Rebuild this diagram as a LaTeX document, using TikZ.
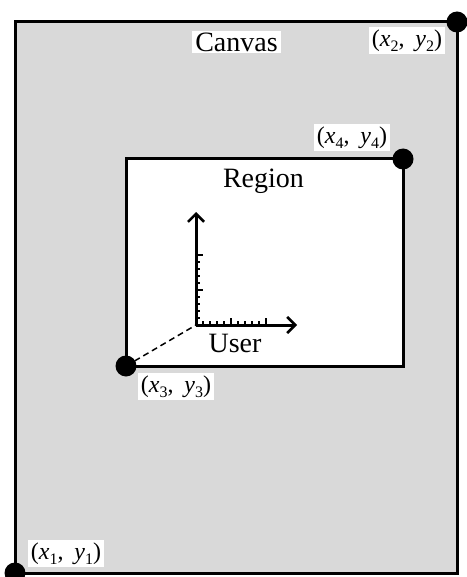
\documentclass[tikz,border=0pt]{standalone}
\usepackage{fontspec}
\setmainfont{Liberation Serif}
\usetikzlibrary{arrows.meta}
\definecolor{canvasgray}{RGB}{217,217,217}
\tikzset{
  frame/.style={draw=black, line width=3pt},
  cornerdot/.style={circle, fill=black, minimum size=21pt, inner sep=0pt},
  biglabel/.style={font=\fontsize{28}{30}\selectfont, inner sep=0pt},
  coordlabel/.style={fill=white, font=\fontsize{24}{26}\selectfont, inner xsep=3pt, inner ysep=2pt, text height=17pt, text depth=6pt},
  axis/.style={line width=3pt, -{Straight Barb[length=8pt,width=16pt,line width=2.6pt]}},
  majortick/.style={line width=2.6pt},
  minortick/.style={line width=2.2pt},
}
\newcommand{\crdsub}[1]{\raisebox{-0.22em}{\fontsize{16}{16}\selectfont #1}}
\newcommand{\crd}[1]{(\textit{x}\crdsub{#1},\hspace{0.45em}\textit{y}\crdsub{#1})}
\begin{document}
\begin{tikzpicture}[x=1pt,y=-1pt]
\useasboundingbox (0,0) rectangle (466,577);
% canvas
\fill[canvasgray] (15,22) rectangle (457,573);
\draw[frame] (15,22) rectangle (457,573);
% region
\fill[white] (126,159) rectangle (403,366);
\draw[frame] (126,159) rectangle (403,366);
% labels
\node[biglabel, fill=white, inner xsep=3pt, inner ysep=2pt] (canvaslbl) at (236.5,42) {Canvas};
\node[biglabel, anchor=base] (regionlbl) at (263.5,187) {Region};
\node[biglabel, anchor=base] (userlbl) at (235,352) {User};
\node[coordlabel] (c2) at (407,41) {\crd{2}};
\node[coordlabel] (c4) at (352,138) {\crd{4}};
\node[coordlabel] (c3) at (176,386.5) {\crd{3}};
\node[coordlabel] (c1) at (66,553.5) {\crd{1}};
% axes
\coordinate (o) at (196,325);
\coordinate (ytip) at (196,212);
\coordinate (xtip) at (297,325);
\foreach \i in {1,...,10} {
  \pgfmathsetmacro{\d}{\i*7}
  \draw[minortick] (196,325-\d) -- ++(4,0);
  \draw[minortick] (196+\d,325) -- ++(0,-4);
}
\foreach \d in {35,70} {
  \draw[majortick] (196,325-\d) -- ++(7,0);
  \draw[majortick] (196+\d,325) -- ++(0,-7);
}
\draw[axis] (o) -- (ytip);
\draw[axis] (o) -- (xtip);
% corner dots
\node[cornerdot] (d2) at (457,22) {};
\node[cornerdot] (d4) at (403,159) {};
\node[cornerdot] (d3) at (126,366) {};
\node[cornerdot] (d1) at (15,573) {};
% dashed link
\draw[line width=1.5pt, dash pattern=on 6pt off 4pt] (d3.center) -- (o);
\end{tikzpicture}
\end{document}
